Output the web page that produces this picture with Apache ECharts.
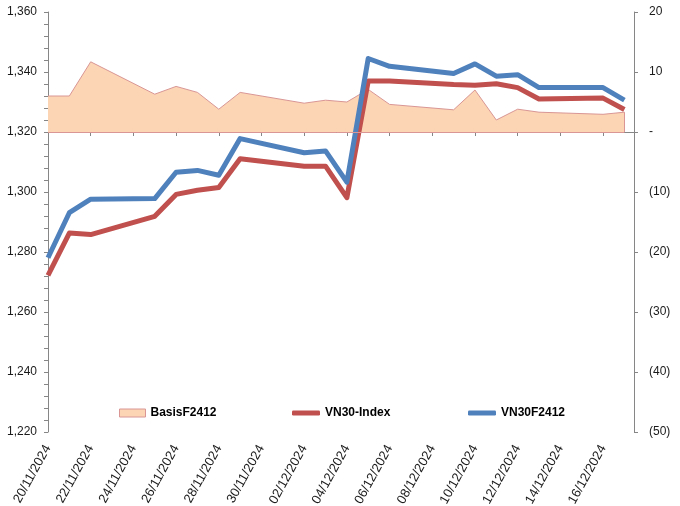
<!DOCTYPE html>
<html>
<head>
<meta charset="utf-8">
<script src="https://cdn.jsdelivr.net/npm/echarts@6/dist/echarts.min.js"></script>
<style>
html,body{margin:0;padding:0;background:#fff;}
#chart{width:680px;height:506px;}
</style>
</head>
<body>
<div id="chart"></div>
<script>
// ---- Data ----
const dates = ['20/11/2024','21/11/2024','22/11/2024','25/11/2024','26/11/2024','27/11/2024','28/11/2024','29/11/2024',
  '02/12/2024','03/12/2024','04/12/2024','05/12/2024','06/12/2024','09/12/2024','10/12/2024','11/12/2024',
  '12/12/2024','13/12/2024','16/12/2024','17/12/2024'];
const vn30Index = [1272.2,1286.3,1285.8,1291.9,1299.2,1300.6,1301.5,1311.1,
  1308.6,1308.6,1298.1,1337.0,1337.0,1335.8,1335.6,1336.1,
  1334.8,1331.0,1331.3,1327.5];
const vn30F2412 = [1278.1,1293.1,1297.6,1297.8,1306.6,1307.2,1305.6,1317.8,
  1313.1,1313.7,1303.3,1344.5,1341.9,1339.5,1342.7,1338.6,
  1339.1,1334.8,1334.8,1330.6];
const basisF2412 = [6.0,6.0,11.7,6.3,7.6,6.6,3.8,6.6,
  4.8,5.3,5.0,7.1,4.6,3.7,7.0,2.0,
  3.8,3.3,2.95,3.3];
const xTickLabels = ['20/11/2024','22/11/2024','24/11/2024','26/11/2024','28/11/2024','30/11/2024','02/12/2024',
  '04/12/2024','06/12/2024','08/12/2024','10/12/2024','12/12/2024','14/12/2024','16/12/2024'];
const leftTicks = {min:1220, max:1360, interval:20};
const rightTicks = {min:-50, max:20, interval:10};

// ---- Helpers ----
const startUTC = Date.UTC(2024,10,20);
function dayOffset(s){
  const p = s.split('/').map(Number);
  return Math.round((Date.UTC(p[2],p[1]-1,p[0]) - startUTC)/86400000);
}
function fmtDay(v){
  const d = new Date(startUTC + Math.round(v)*86400000);
  const dd = String(d.getUTCDate()).padStart(2,'0');
  const mm = String(d.getUTCMonth()+1).padStart(2,'0');
  return dd + '/' + mm + '/' + d.getUTCFullYear();
}
const xs = dates.map(dayOffset);
const tickXs = xTickLabels.map(dayOffset);
const lastX = xs[xs.length-1];
const lastBasis = basisF2412[basisF2412.length-1];

const font = "'Liberation Sans', Arial, sans-serif";
const axisColor = '#868686';
const txt = '#1a1a1a';
const legendText = {fontFamily:font, fontSize:12, fontWeight:'bold', color:'#000'};

const chart = echarts.init(document.getElementById('chart'), null, {renderer:'canvas'});
chart.setOption({
  animation:false,
  backgroundColor:'#fff',
  textStyle:{fontFamily:font},
  grid:{left:48, right:46, top:12, bottom:74, containLabel:false, outerBoundsMode:'none'},
  legend:[
    {left:119, top:407, padding:0, itemWidth:26, itemHeight:8, itemGap:0, textStyle:legendText,
     data:[{name:'BasisF2412', icon:'rect', itemStyle:{color:'#fcd5b5', borderColor:'#d99694', borderWidth:1}}]},
    {left:292, top:407, padding:0, itemWidth:28, itemHeight:5, itemGap:0, textStyle:legendText,
     data:[{name:'VN30-Index', icon:'roundRect', itemStyle:{color:'#c0504d', borderWidth:0}}]},
    {left:468, top:407, padding:0, itemWidth:28, itemHeight:5, itemGap:0, textStyle:legendText,
     data:[{name:'VN30F2412', icon:'roundRect', itemStyle:{color:'#4f81bd', borderWidth:0}}]}
  ],
  xAxis:{
    type:'value', min:0, max:27.45,
    axisLine:{show:true, lineStyle:{color:axisColor, width:1}},
    axisTick:{show:true, length:4, lineStyle:{color:axisColor}, customValues:tickXs},
    axisLabel:{customValues:tickXs, rotate:61, fontSize:13, color:txt, fontFamily:font, margin:14,
      formatter:(v)=>fmtDay(v)},
    splitLine:{show:false}
  },
  yAxis:[
    {type:'value', position:'left', min:leftTicks.min, max:leftTicks.max, interval:leftTicks.interval,
     axisLine:{show:true, lineStyle:{color:axisColor}},
     axisTick:{show:true, length:4, lineStyle:{color:axisColor}},
     minorTick:{show:true, splitNumber:5, length:4, lineStyle:{color:axisColor}},
     axisLabel:{fontSize:12, color:txt, fontFamily:font, margin:11,
       formatter:(v)=>v.toLocaleString('en-US')},
     splitLine:{show:false}},
    {type:'value', position:'right', min:rightTicks.min, max:rightTicks.max, interval:rightTicks.interval,
     axisLine:{show:true, lineStyle:{color:axisColor}},
     axisTick:{show:true, length:4, lineStyle:{color:axisColor}},
     axisLabel:{fontSize:12, color:txt, fontFamily:font, margin:15,
       formatter:(v)=> v===0 ? '-' : (v<0 ? '(' + (-v) + ')' : String(v))},
     splitLine:{show:false}}
  ],
  series:[
    {name:'BasisF2412', type:'line', yAxisIndex:1, symbol:'none', z:1,
     data: xs.map((x,i)=>[x, basisF2412[i]]),
     lineStyle:{color:'#d99694', width:1},
     itemStyle:{color:'#fcd5b5', borderColor:'#d99694'},
     areaStyle:{color:'#fcd5b5', opacity:1},
     markLine:{silent:true, symbol:'none', label:{show:false},
       lineStyle:{color:'#d99694', width:1, type:'solid'},
       data:[
         [{coord:[xs[0],0]},{coord:[lastX,0]}],
         [{coord:[lastX,0]},{coord:[lastX,lastBasis]}]
       ]}
    },
    {name:'VN30-Index', type:'line', yAxisIndex:0, symbol:'none', z:2,
     data: xs.map((x,i)=>[x, vn30Index[i]]),
     lineStyle:{color:'#c0504d', width:5, join:'round'},
     itemStyle:{color:'#c0504d'}},
    {name:'VN30F2412', type:'line', yAxisIndex:0, symbol:'none', z:3,
     data: xs.map((x,i)=>[x, vn30F2412[i]]),
     lineStyle:{color:'#4f81bd', width:5, join:'round'},
     itemStyle:{color:'#4f81bd'}}
  ]
});
</script>
</body>
</html>
